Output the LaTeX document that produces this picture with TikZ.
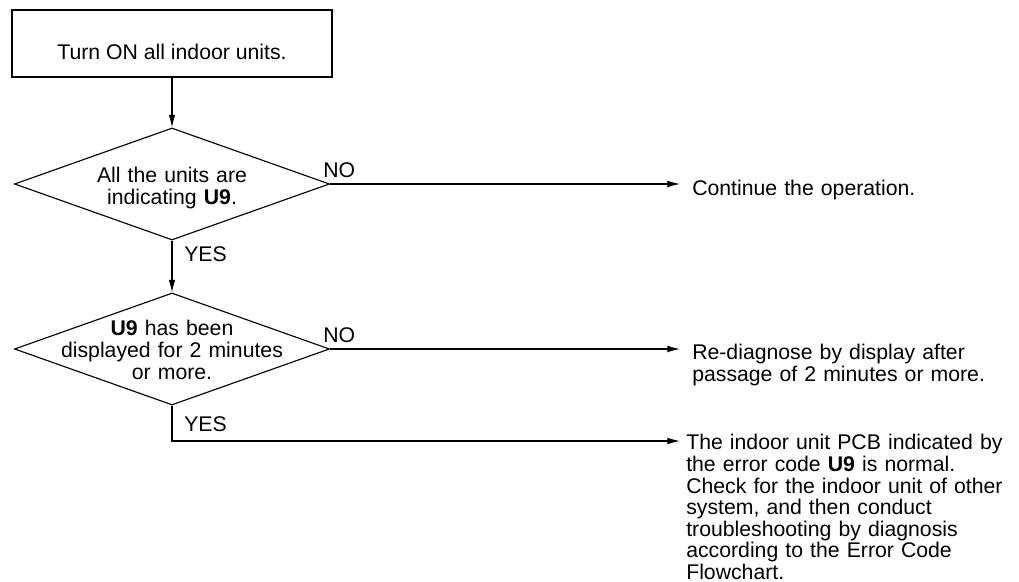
\documentclass[tikz,border=0pt]{standalone}
\usepackage{fontspec}
\setmainfont{Liberation Sans}
\usetikzlibrary{shapes.geometric,arrows.meta}
\begin{document}
\begin{tikzpicture}[x=0.025cm, y=-0.025cm, every node/.style={font=\fontsize{15.1pt}{15.3pt}\selectfont, inner sep=0pt}]
  \tikzstyle{box}=[draw,line width=0.8pt,minimum width=8cm,minimum height=1.675cm]
  \tikzstyle{decision}=[draw,diamond,line width=0.8pt,minimum width=7.875cm,minimum height=2.8cm]
  \tikzstyle{flow}=[line width=0.8pt,-{Latex[length=9pt,width=4.8pt]}]
  \tikzstyle{note}=[anchor=base west,align=left,text width=8.4cm]
  \tikzstyle{question}=[anchor=base,align=center,text width=7cm]
  \useasboundingbox (0,0) rectangle (1019,582);
  \node[box] (start) at (172,43.5) {};
  \node[anchor=base] (starttext) at (172,60) {Turn ON all indoor units.};
  \node[decision] (d1) at (172,184) {};
  \node[question] (d1text) at (172,183) {All the units are\\indicating \textbf{U9}.};
  \node[decision] (d2) at (172,349) {};
  \node[question] (d2text) at (172,336) {\textbf{U9} has been\\displayed for 2 minutes\\or more.};
  \node[note] (cont) at (692,196) {Continue the operation.};
  \node[note] (redo) at (692,360) {Re-diagnose by display after\\passage of 2 minutes or more.};
  \node[note,text width=8.3cm] (normal) at (686,450) {The indoor unit PCB indicated by\\the error code \textbf{U9} is normal.\\Check for the indoor unit of other\\system, and then conduct\\troubleshooting by diagnosis\\according to the Error Code\\Flowchart.};
  \coordinate (yesend) at (680,441);
  \draw[flow] (start) -- (d1);
  \draw[flow] (d1) -- (d2);
  \draw[flow,shorten >=8.5pt] (d1.east) -- (d1.east -| cont.west);
  \draw[flow,shorten >=8.5pt] (d2.east) -- (d2.east -| redo.west);
  \draw[flow] (d2.south) |- (yesend);
  % branch labels
  \node[anchor=base west] (no1) at (323,178) {NO};
  \node[anchor=base west] (no2) at (323,343) {NO};
  \node[anchor=base west] (yes1) at (184,262) {YES};
  \node[anchor=base west] (yes2) at (184,432) {YES};
\end{tikzpicture}
\end{document}
